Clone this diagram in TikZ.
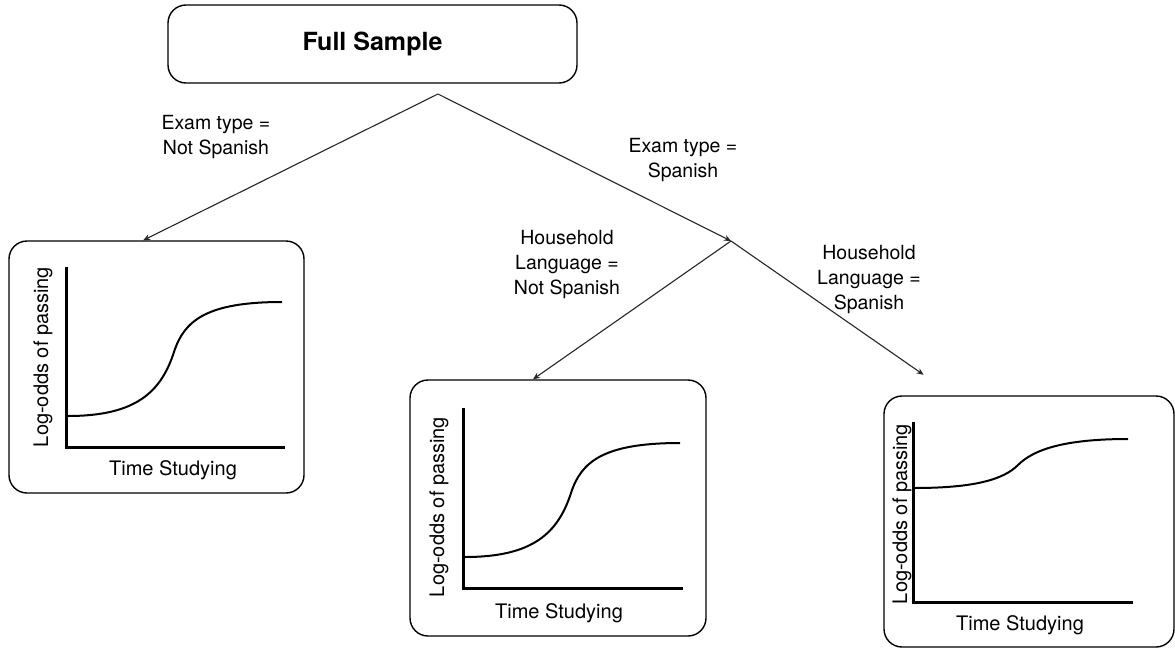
\documentclass[tikz,border=0pt]{standalone}
\usepackage{fontspec}
\setmainfont{TeX Gyre Heros}
\usepackage{tikz}
\usetikzlibrary{arrows.meta}

\begin{document}
\begin{tikzpicture}[
  x=1pt, y=-1pt,
  rootbox/.style={rectangle, draw, rounded corners=18pt, line width=1.4pt, minimum width=409pt, minimum height=78pt, font=\fontsize{25}{30}\selectfont\bfseries},
  plotbox/.style={rectangle, draw, rounded corners=18pt, line width=1.4pt, inner sep=0pt},
  branch/.style={align=center, font=\fontsize{19.5}{25}\selectfont},
  axislabel/.style={font=\fontsize{20}{24}\selectfont},
  arrow/.style={-{Stealth[length=7pt,width=6pt]}, line width=1.1pt, draw=black!85},
  axis/.style={line width=3pt, line join=miter},
  curve/.style={line width=2pt}
]
  \useasboundingbox (0,0) rectangle (1175,648);

  \node[rootbox] (root) at (372.5,44) {Full Sample};
  \node[plotbox, minimum width=295pt, minimum height=252pt] (plotA) at (156.5,367) {};
  \node[plotbox, minimum width=296pt, minimum height=256pt] (plotB) at (558,508) {};
  \node[plotbox, minimum width=290pt, minimum height=251pt] (plotC) at (1029,521.5) {};

  \coordinate (rootfork) at (438,94);
  \coordinate (langfork) at (731,241);

  % tree connectors
  \draw[arrow] (rootfork) -- (plotA.96.6);
  \draw[arrow] (rootfork) -- (langfork);
  \draw[arrow] (langfork) -- (plotB.101);
  \draw[arrow, shorten >=36pt] (langfork) -- (plotC.121.4);

  \node[branch] (examNo) at (216,137.5) {Exam type =\\Not Spanish};
  \node[branch] (examYes) at (683,160) {Exam type =\\Spanish};
  \node[branch] (langNo) at (567,265) {Household\\Language =\\Not Spanish};
  \node[branch] (langYes) at (869,280) {Household\\Language =\\Spanish};

  % plot A
  \begin{scope}[shift={(66,447)}]
    \draw[axis] (0,-180) -- (0,0) -- (219,0);
    \draw[curve] (2,-31) .. controls (70,-31) and (95,-55) .. (108,-95)
      .. controls (118,-126) and (140,-145) .. (216,-145);
  \end{scope}
  \node[axislabel] (timeA) at (173,470) {Time Studying};
  \node[axislabel, rotate=90] (oddsA) at (43,357) {Log-odds of passing};

  % plot B
  \begin{scope}[shift={(463,588)}]
    \draw[axis] (0,-180) -- (0,0) -- (220,0);
    \draw[curve] (2,-31) .. controls (70,-31) and (95,-55) .. (108,-95)
      .. controls (118,-126) and (140,-145) .. (217,-145);
  \end{scope}
  \node[axislabel] (timeB) at (559,613) {Time Studying};
  \node[axislabel, rotate=90] (oddsB) at (439,507) {Log-odds of passing};

  % plot C
  \begin{scope}[shift={(913,602)}]
    \draw[axis] (0,-180) -- (0,0) -- (220,0);
    \draw[curve] (1,-114) .. controls (60,-114) and (90,-122) .. (105,-137)
      .. controls (120,-152) and (150,-163) .. (215,-163);
  \end{scope}
  \node[axislabel] (timeC) at (1020,625) {Time Studying};
  \node[axislabel, rotate=90] (oddsC) at (902,514) {Log-odds of passing};
\end{tikzpicture}
\end{document}
